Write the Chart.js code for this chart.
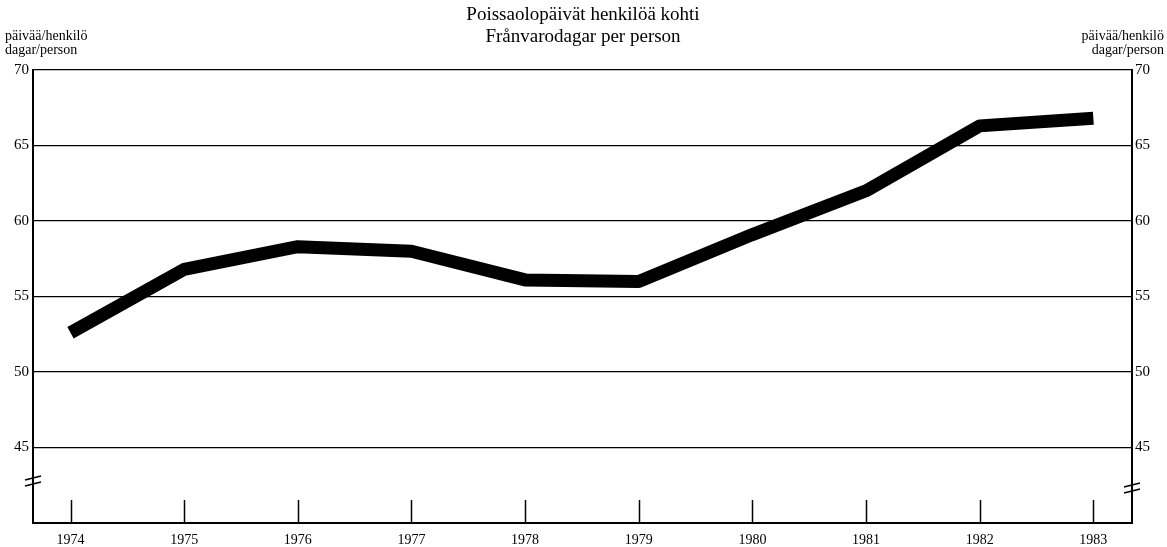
<!DOCTYPE html>
<html>
<head>
<meta charset="utf-8">
<script src="https://cdn.jsdelivr.net/npm/chart.js@4/dist/chart.umd.min.js"></script>
<style>
  html, body { margin: 0; padding: 0; background: #fff; }
  #wrap { width: 1167px; height: 547px; }
</style>
</head>
<body>
<div id="wrap"><canvas id="chart" width="1167" height="547"></canvas></div>
<script>
/* ---------------- Data ---------------- */

const years = [1974, 1975, 1976, 1977, 1978, 1979, 1980, 1981, 1982, 1983];
const daysPerPerson = [52.6, 56.8, 58.3, 58.0, 56.1, 56.0, 59.1, 62.0, 66.3, 66.8];
const yTicks = [45, 50, 55, 60, 65, 70];
const titleLines = ["Poissaolopäivät henkilöä kohti", "Frånvarodagar per person"];
const unitLines = ["päivää/henkilö", "dagar/person"];

const serif = "'Liberation Serif', 'DejaVu Serif', serif";

/* ---------------- Decorations ---------------- */

const decor = {
    id: "decor",
    afterDraw(chart) {
        const ctx = chart.ctx;
        const area = chart.chartArea;
        const x = chart.scales.x;
        ctx.save();
        ctx.fillStyle = "#000";
        ctx.strokeStyle = "#000";

        // title
        ctx.font = "19px " + serif;
        ctx.textAlign = "center";
        ctx.textBaseline = "middle";
        ctx.fillText(titleLines[0], 583, 15);
        ctx.fillText(titleLines[1], 583, 37);

        // unit labels
        ctx.font = "14px " + serif;
        ctx.textAlign = "left";
        ctx.fillText(unitLines[0], 5, 36);
        ctx.fillText(unitLines[1], 5, 50);
        ctx.textAlign = "right";
        ctx.fillText(unitLines[0], 1164, 36);
        ctx.fillText(unitLines[1], 1164, 50);

        // inward year ticks
        ctx.lineWidth = 1.5;
        years.forEach(yr => {
            const px = Math.round(x.getPixelForValue(yr)) + 0.5;
            ctx.beginPath();
            ctx.moveTo(px, area.bottom);
            ctx.lineTo(px, area.bottom - 23);
            ctx.stroke();
        });

        // axis break marks
        ctx.lineWidth = 1.6;
        const brk = (cx, cy) => {
            [-3, 3].forEach(d => {
                ctx.beginPath();
                ctx.moveTo(cx - 8, cy + d + 2);
                ctx.lineTo(cx + 8, cy + d - 2);
                ctx.stroke();
            });
        };
        brk(area.left, 481);
        brk(area.right, 488);
        ctx.restore();
    }
};

/* ---------------- Chart ---------------- */

new Chart(document.getElementById("chart"), {
    type: "line",
    data: {
        datasets: [{
            data: years.map((yr, i) => ({ x: yr, y: daysPerPerson[i] })),
            borderColor: "#000",
            borderWidth: 13,
            borderCapStyle: "butt",
            borderJoinStyle: "round",
            pointRadius: 0,
            tension: 0
        }]
    },
    options: {
        responsive: false,
        animation: false,
        layout: { padding: { top: 70, left: 0, right: 0, bottom: 0 } },
        plugins: {
            legend: { display: false },
            title: { display: false },
            tooltip: { enabled: false }
        },
        scales: {
            x: {
                type: "linear",
                min: 1973.67,
                max: 1983.34,
                afterBuildTicks: s => { s.ticks = years.map(v => ({ value: v })); },
                afterFit: s => { s.height = 24; },
                grid: { display: false },
                border: { display: true, color: "#000", width: 2 },
                ticks: {
                    color: "#000",
                    font: { family: serif, size: 14 },
                    padding: 1,
                    maxRotation: 0,
                    callback: v => String(v)
                }
            },
            y: {
                position: "left",
                min: 40,
                max: 70,
                afterBuildTicks: s => { s.ticks = yTicks.map(v => ({ value: v })); },
                afterFit: s => { s.width = 33; },
                grid: { color: "#000", lineWidth: 1.3, drawTicks: false },
                border: { display: true, color: "#000", width: 2 },
                ticks: {
                    color: "#000",
                    font: { family: serif, size: 15 },
                    padding: 4
                }
            },
            y2: {
                position: "right",
                min: 40,
                max: 70,
                afterBuildTicks: s => { s.ticks = yTicks.map(v => ({ value: v })); },
                afterFit: s => { s.width = 35; },
                grid: { display: false, drawTicks: false },
                border: { display: true, color: "#000", width: 2 },
                ticks: {
                    color: "#000",
                    font: { family: serif, size: 15 },
                    padding: 3
                }
            }
        }
    },
    plugins: [decor]
});
</script>
</body>
</html>
